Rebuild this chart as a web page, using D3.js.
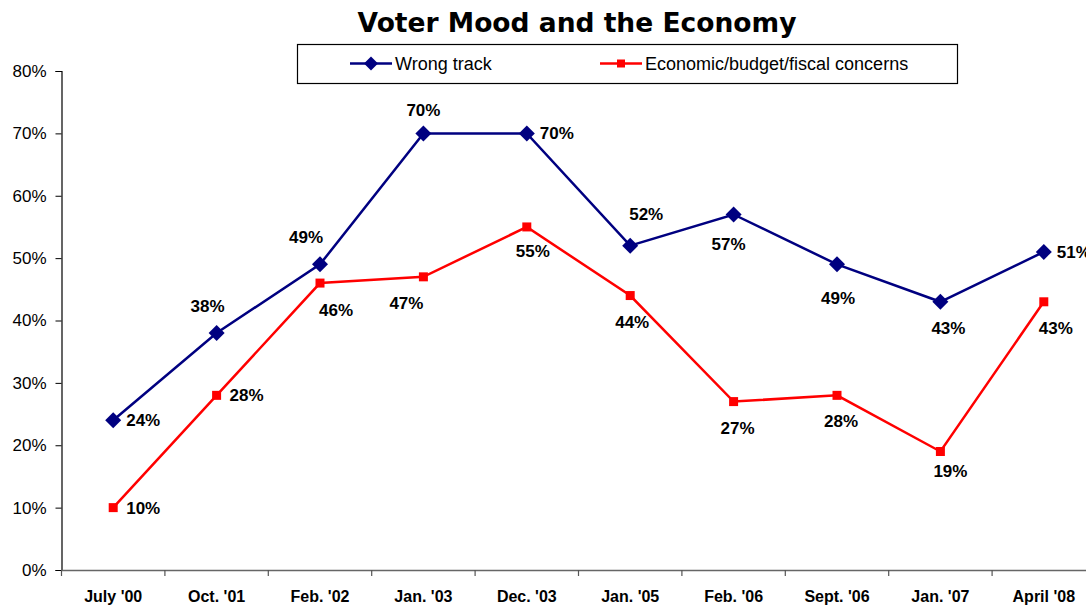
<!DOCTYPE html>
<html>
<head>
<meta charset="utf-8">
<script src="https://cdn.jsdelivr.net/npm/d3@7"></script>
<style>
  body { margin: 0; background: #fff; }
  text { font-family: "Liberation Sans", Arial, sans-serif; }
</style>
</head>
<body>
<svg id="chart" width="1086" height="605"></svg>
<script>
// data
var categories = ["July '00", "Oct. '01", "Feb. '02", "Jan. '03", "Dec. '03", "Jan. '05", "Feb. '06", "Sept. '06", "Jan. '07", "April '08"];
var wrongTrack = [24, 38, 49, 70, 70, 52, 57, 49, 43, 51];
var economic = [10, 28, 46, 47, 55, 44, 27, 28, 19, 43];
var yTicks = [0, 10, 20, 30, 40, 50, 60, 70, 80];

// label placement: 'r' = right of point, otherwise [dx, dy] of a centred label
var wrongLabelPos = ['r', [-9, -21], [-14, -21], [0, -17], 'r', [16, -26], [-5, 36], [1, 40], [8, 32], 'r'];
var econLabelPos = ['r', 'r', [16, 33], [-17, 32], [6, 30], [2, 32], [4, 32], [4, 32], [10, 26], [12, 32]];

var svg = d3.select('#chart');
var plotLeft = 61.5, plotTop = 71, plotBottom = 570, step = 103.4;

var x = d3.scaleBand().domain(categories)
  .range([plotLeft, plotLeft + step * categories.length]);
var y = d3.scaleLinear().domain([0, 80]).range([plotBottom, plotTop]);

// title
svg.append('text')
  .attr('x', 577).attr('y', 32)
  .attr('text-anchor', 'middle')
  .style('font-family', '"DejaVu Sans", Verdana, sans-serif')
  .style('font-size', '26.5px').style('font-weight', 'bold')
  .text('Voter Mood and the Economy');

// y axis
var yAxis = svg.append('g').attr('transform', 'translate(' + plotLeft + ',0)')
  .call(d3.axisLeft(y).tickValues(yTicks).tickSize(6).tickFormat(function (d) { return d + '%'; }));
yAxis.select('.domain').attr('stroke', '#000').attr('stroke-width', 1.2);
yAxis.selectAll('.tick line').attr('stroke', '#000');
yAxis.selectAll('.tick text')
  .attr('x', -15)
  .style('font-size', '17px').style('font-family', '"Liberation Sans", Arial, sans-serif');

// x axis
var xAxis = svg.append('g').attr('transform', 'translate(0,' + plotBottom + ')')
  .call(d3.axisBottom(x).tickSize(0).tickPadding(21));
xAxis.select('.domain').attr('stroke', '#666').attr('stroke-width', 1.5);
xAxis.selectAll('.tick text')
  .style('font-size', '16px').style('font-weight', 'bold')
  .style('font-family', '"Liberation Sans", Arial, sans-serif');
// ticks at category boundaries
svg.append('g').selectAll('line')
  .data(categories)
  .enter().append('line')
  .attr('x1', function (d) { return x(d); })
  .attr('x2', function (d) { return x(d); })
  .attr('y1', plotBottom).attr('y2', plotBottom + 6)
  .attr('stroke', '#555').attr('stroke-width', 1.2);

function cx(i) { return x(categories[i]) + x.bandwidth() / 2; }

var line = d3.line()
  .x(function (d, i) { return cx(i); })
  .y(function (d) { return y(d); });

// diamond drawn as a square turned 45 degrees
function markerPath(shape, r) {
  if (shape === 'diamond') return 'M0,' + (-r) + 'L' + r + ',0L0,' + r + 'L' + (-r) + ',0Z';
  return 'M' + (-r) + ',' + (-r) + 'H' + r + 'V' + r + 'H' + (-r) + 'Z';
}

function drawSeries(values, color, shape, labelPos) {
  var g = svg.append('g');
  g.append('path')
    .datum(values)
    .attr('d', line)
    .attr('fill', 'none')
    .attr('stroke', color)
    .attr('stroke-width', 2.5);

  g.selectAll('path.marker')
    .data(values)
    .enter().append('path')
    .attr('class', 'marker')
    .attr('transform', function (d, i) { return 'translate(' + cx(i) + ',' + y(d) + ')'; })
    .attr('d', shape === 'diamond' ? markerPath('diamond', 8) : markerPath('square', 4.5))
    .attr('fill', color);

  g.selectAll('text')
    .data(values)
    .enter().append('text')
    .attr('x', function (d, i) {
      return labelPos[i] === 'r' ? cx(i) + 13 : cx(i) + labelPos[i][0];
    })
    .attr('y', function (d, i) {
      return labelPos[i] === 'r' ? y(d) + 6 : y(d) + labelPos[i][1];
    })
    .attr('text-anchor', function (d, i) { return labelPos[i] === 'r' ? 'start' : 'middle'; })
    .style('font-size', '17px').style('font-weight', 'bold')
    .text(function (d) { return d + '%'; });
}

drawSeries(wrongTrack, '#000080', 'diamond', wrongLabelPos);
drawSeries(economic, '#ff0000', 'square', econLabelPos);

// legend
var legend = svg.append('g');
legend.append('rect')
  .attr('x', 297.5).attr('y', 44.5).attr('width', 660).attr('height', 39)
  .attr('fill', '#fff').attr('stroke', '#000').attr('stroke-width', 1.2);
var items = [
  { name: 'Wrong track', color: '#000080', shape: 'diamond', x: 350 },
  { name: 'Economic/budget/fiscal concerns', color: '#ff0000', shape: 'square', x: 600 }
];
items.forEach(function (it) {
  legend.append('line')
    .attr('x1', it.x).attr('x2', it.x + 42)
    .attr('y1', 63.5).attr('y2', 63.5)
    .attr('stroke', it.color).attr('stroke-width', 2.5);
  legend.append('path')
    .attr('transform', 'translate(' + (it.x + 21) + ',63.5)')
    .attr('d', it.shape === 'diamond' ? markerPath('diamond', 7) : markerPath('square', 4))
    .attr('fill', it.color);
  legend.append('text')
    .attr('x', it.x + 45).attr('y', 69.5)
    .style('font-size', '18px')
    .text(it.name);
});
</script>
</body>
</html>
